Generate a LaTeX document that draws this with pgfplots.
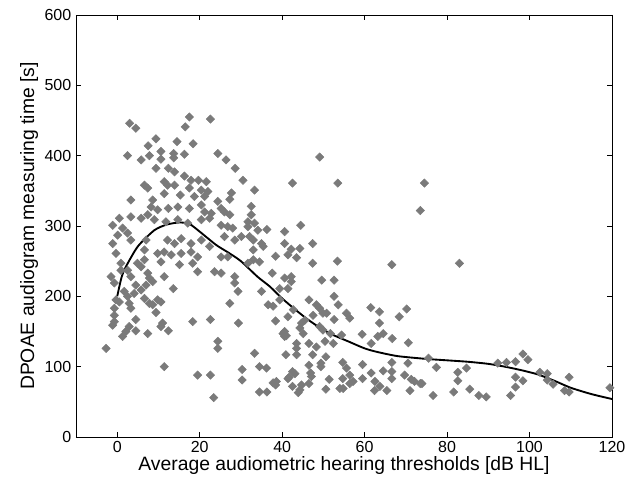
\documentclass[border=0pt]{standalone}
\usepackage{pgfplots}
\pgfplotsset{compat=1.18}
\usepackage{fontspec}
\setmainfont{Liberation Sans}
\definecolor{dotgray}{RGB}{122,122,122}
\begin{document}
\begin{tikzpicture}
\path[use as bounding box] (-57pt,-36pt) rectangle (419.25pt,327.75pt);
\begin{axis}[
  at={(0,0)}, anchor=south west,
  scale only axis, width=402pt, height=316.5pt,
  xmin=-10, xmax=120, ymin=0, ymax=600,
  xtick={0,20,...,120}, ytick={0,100,...,600},
  tick align=inside, major tick length=4pt,
  axis line style={line width=0.7pt},
  every tick/.style={black, line width=0.6pt},
  /pgf/number format/assume math mode=true,
  tick label style={font=\fontsize{12pt}{14pt}\selectfont},
  label style={font=\fontsize{14.5pt}{16pt}\selectfont},
  xlabel={Average audiometric hearing thresholds [dB HL]},
  ylabel={DPOAE audiogram measuring time [s]},
  xlabel style={yshift=4pt},
  ylabel style={yshift=-2pt},
  clip=false,
]
\addplot[only marks, mark=square*, mark size=2.2pt, color=dotgray,
  mark options={rotate=45, draw=none, fill=dotgray}] table {
x y
3 446
4.5 439
17.5 455
22.6 452
16.5 441
9.4 424
14.5 420
18.4 417
7.5 414
2.5 400
5.8 394
7.8 400
10.6 406
10.6 395
13.7 403
13.7 397
16.3 402
24.4 403
26.4 394
9.4 382
12.4 382
13.9 377
16.3 371
17.9 365
19.7 365
21.6 363
28.6 382
30.5 365
33.3 351
6.6 358
7.4 354
11.4 363
12.2 358
13.9 358
11.4 346
15.3 344
17.5 354
20.4 351
22 349
18.7 342
21.2 342
27.7 347
27.3 338
24.4 335
3.3 337
8.6 337
8.2 327
9.8 323
12.4 325
14.7 327
17.5 325
20.4 330
21.2 320
22.8 318
25.2 325
32.5 328
32.5 316
0.5 311
-1.1 301
3.3 313
5.8 311
7.4 316
9 309
11.8 306
14.7 309
17.1 304
20.4 309
22.4 311
25.2 301
26.8 299
28 297
31.7 299
34.1 294
1.3 297
2.5 290
3.3 280
0.1 287
-1.1 275
7 280
12.2 280
13.9 275
15.5 282
17.9 275
20.4 280
22.4 271
26 285
28.5 280
30.1 285
32.1 285
35 275
-0.3 261
6.6 266
9.8 261
11.4 263
13.1 259
15.5 261
17.9 263
19.5 256
25.2 256
26.8 256
0.9 247
4.9 247
10.6 249
15.1 245
31.7 247
0.9 237
-1.5 228
-0.7 219
2.5 237
3.3 228
5.8 242
7.4 233
6.6 252
4.5 216
5.8 209
7 216
1.7 207
2.5 200
4.1 204
7.8 226
8.6 221
-0.3 195
0.5 192
2.9 190
6.6 197
7.8 190
8.6 188
9.8 195
10.6 192
3.3 183
-0.7 183
-0.7 173
-0.7 164
-1.1 159
9.4 177
4.5 167
2.9 157
2.1 150
1.3 143
4.5 151
7.4 147
11 162
10.6 157
12.4 151
11.4 228
13.6 211
18.3 247
19.5 235
18.3 164
22.6 167
-2.7 126
11.4 100
19.5 88
22.6 88
24.4 136
24.4 126
23.4 56
23.6 235
25.2 233
28.5 228
28.5 219
29.3 207
27.3 190
29.4 162
33.3 119
30.3 96
30.3 81
34.5 100
34.5 64
34.5 249
35 207
33.3 304
33 280
35.4 271
33 266
33 252
36.3 295
40.6 292
44.5 301
40.6 275
42.2 267
44.3 268
38.4 257
41.4 259
43.5 255
47.4 275
47.4 247
53.4 250
66.6 245
73.5 322
37.6 233
40.6 226
42.2 228
42.2 221
39.4 211
41.4 211
49.6 223
52.6 223
52.6 200
36.6 188
37.8 186
39.4 195
42.7 181
46.5 195
48.3 188
49.1 183
49.9 176
50.8 176
47.5 173
53.6 188
55.6 176
56.4 169
52.6 167
61.5 184
63.6 178
70.2 182
68.4 171
63.6 162
38.4 165
41.4 171
44.7 162
44.3 155
45.5 166
49.1 157
49.9 152
40.6 150
40.6 143
45.1 147
51.7 147
54.4 145
59.4 146
64.5 147
66.7 140
70.6 134
43.5 133
43.5 126
43.5 117
46.5 133
48.3 128
47.4 117
50.4 136
52.4 133
50.6 114
49.4 105
49.4 100
46.5 102
54.7 106
55.6 98
59.5 103
59.5 83
56.4 88
57.2 79
56.4 76
54 69
54.8 69
51.4 82
50.6 68
46.9 91
47.1 86
46.5 76
44.7 74
44.3 67
43.9 63
42.5 93
43.1 90
41.7 85
42.5 72
40.9 117
38.4 74
37.8 77
36.3 64
36.2 98
61.6 91
62.5 79
62.4 66
64.5 94
66.6 106
66.6 93
66.6 83
65.4 66
69.7 88
70.5 105
71.3 82
72.1 79
73.5 76
71 66
63.7 72
54.7 83
63.2 143
61.6 133
53.5 361
74.5 361
42.5 361
49.1 398
26 320
27.3 316
31.7 306
38.6 79
41.4 83
40.2 147
41 144
83 247
75.5 112
77.4 99
73.9 76
76.6 59
81.6 64
82.6 92
82.6 80
84.7 98
85.5 68
87.7 59
89.5 57
92.3 105
94.4 106
96.6 107
98.4 118
99.6 110
96.6 85
98.4 80
96.6 71
95.4 59
102.5 92
104.3 90
104.3 81
105.7 75
109.6 85
108.5 66
109.6 64
119.5 70
};
\addplot[black, line width=1.4pt, smooth, tension=0.4] table {
x y
0 200
1 226
2 241
5 271
9 294
12 302
15 305
17.5 303
20 292
24 273
27 262
30 250
34 228
37 214
40 197
43 182
46 168
49 156
52 146
56 136
60 126
63 121
68 115
75 111
80 109
85 107
90 104
94 100
98 95
102 89
106 80
110 70
115 61
120 54
};
\end{axis}
\end{tikzpicture}
\end{document}
